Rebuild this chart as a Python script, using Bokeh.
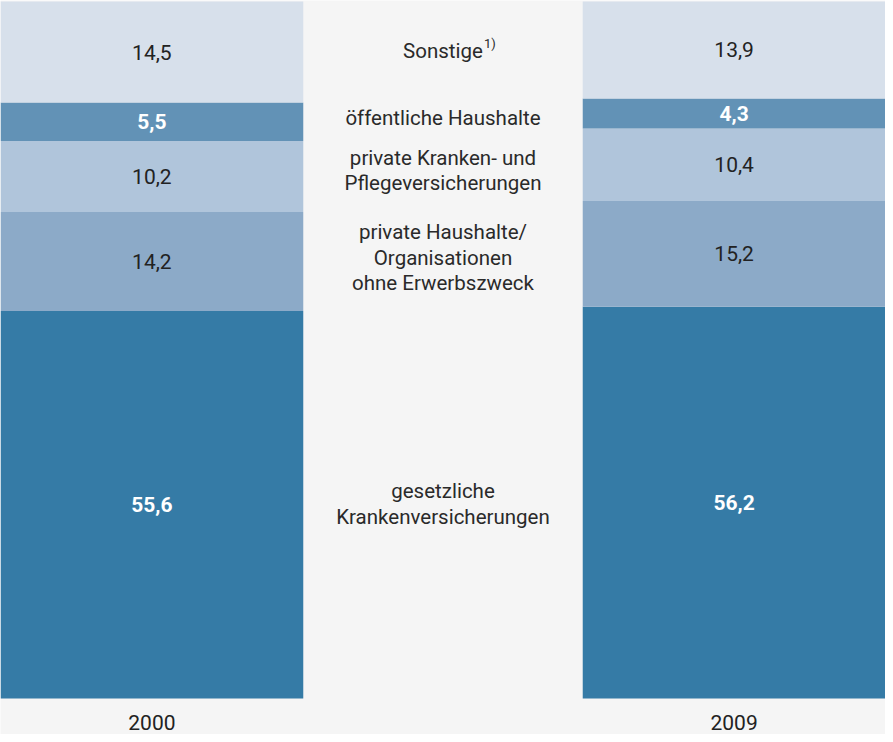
from bokeh.plotting import figure
from bokeh.models import ColumnDataSource, Range1d
from bokeh.core.properties import value
from bokeh.embed import file_html
from bokeh.resources import INLINE

years = ["2000", "2009"]
categories = [
    "gesetzliche\nKrankenversicherungen",
    "private Haushalte/\nOrganisationen\nohne Erwerbszweck",
    "private Kranken- und\nPflegeversicherungen",
    "öffentliche Haushalte",
    "Sonstige",
]
values_2000 = [55.6, 14.2, 10.2, 5.5, 14.5]
values_2009 = [56.2, 15.2, 10.4, 4.3, 13.9]
colors = ["#357ba6", "#8caac8", "#b0c5db", "#6292b6", "#d7e0eb"]
label_colors = ["#ffffff", "#222222", "#222222", "#ffffff", "#222222"]
label_styles = ["bold", "normal", "normal", "bold", "normal"]
footnote = "1)"

FONT = value("Roboto")

p = figure(width=885, height=734, output_backend="svg", toolbar_location=None,
           x_range=Range1d(-0.26, 1.26), y_range=Range1d(-5.15, 100.15),
           min_border=0, outline_line_color=None,
           background_fill_color="#f5f5f5", border_fill_color="#f5f5f5")
p.axis.visible = False
p.grid.visible = False

xs, bottoms, tops, fills, labels, lcols, lstyles, mids = [], [], [], [], [], [], [], []
for i, vals in enumerate([values_2000, values_2009]):
    cum = 0.0
    for j, v in enumerate(vals):
        xs.append(i)
        bottoms.append(cum)
        tops.append(cum + v)
        mids.append(cum + v / 2)
        fills.append(colors[j])
        labels.append(f"{v:.1f}".replace(".", ","))
        lcols.append(label_colors[j])
        lstyles.append(label_styles[j])
        cum += v

src = ColumnDataSource(dict(x=xs, bottom=bottoms, top=tops, fill=fills,
                            label=labels, lcol=lcols, lstyle=lstyles, mid=mids))
p.vbar(x="x", bottom="bottom", top="top", width=0.52, fill_color="fill",
       line_color=None, source=src)
p.text(x="x", y="mid", text="label", text_color="lcol", text_font_style="lstyle",
       text_font=FONT, text_font_size="21px", text_align="center",
       text_baseline="middle", source=src)

# category labels in the middle
cat_y = []
c0 = 0.0
c1 = 0.0
for a, b in zip(values_2000, values_2009):
    cat_y.append(((c0 + a / 2) + (c1 + b / 2)) / 2)
    c0 += a
    c1 += b
csrc = ColumnDataSource(dict(x=[0.5] * len(categories), y=cat_y, text=categories))
p.text(x="x", y="y", text="text", source=csrc, text_font=FONT,
       text_font_size="20.5px", text_color="#2a2a2a", text_align="center",
       text_baseline="middle", text_line_height=1.07)
p.text(x=[0.5], y=[cat_y[-1]], text=[footnote], text_font=FONT,
       text_font_size="13px", text_color="#2a2a2a", text_align="left",
       text_baseline="middle", x_offset=41, y_offset=-8)

# year labels
p.text(x=[0, 1], y=[-3.4, -3.4], text=years, text_font=FONT,
       text_font_size="21px", text_color="#222222", text_align="center",
       text_baseline="middle")

open("out.html", "w").write(file_html(p, INLINE))
